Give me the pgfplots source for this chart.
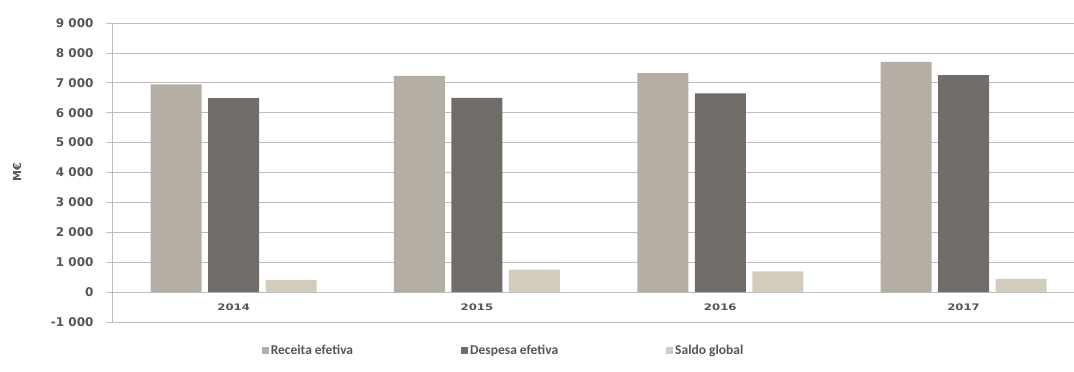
\documentclass[border=0pt]{standalone}
\usepackage{fontspec}
\setmainfont{DejaVu Sans}
\newfontfamily\carl{Carlito}
\usepackage{pgfplots}
\pgfplotsset{compat=1.18}
\definecolor{rec}{HTML}{B4AEA5}
\definecolor{desp}{HTML}{706D68}
\definecolor{sald}{HTML}{D2CCBC}
\definecolor{txt}{HTML}{555555}
\definecolor{gridc}{HTML}{BDBDBD}
\begin{document}
\begin{tikzpicture}
\path[use as bounding box] (-112pt,-50pt) rectangle (962pt,322pt);
\begin{axis}[
  at={(0pt,0pt)}, anchor=south west,
  scale only axis, width=962pt, height=299pt,
  ymin=-1000, ymax=9000, ytick={-1000,0,1000,2000,3000,4000,5000,6000,7000,8000,9000},
  xmin=-0.5, xmax=3.454, xtick={0,1,2,3}, xticklabels={2014,2015,2016,2017},
  ybar=6.5pt, bar width=51pt,
  axis x line=middle, axis y line=left,
  axis line style={draw=gridc, line width=0.8pt, -},
  ymajorgrids, grid style={draw=gridc, line width=0.8pt},
  tick align=outside, major tick length=6pt,
  major x tick style={draw=none},
  major y tick style={draw=gridc, line width=0.8pt},
  hide obscured x ticks=false, hide obscured y ticks=false,
  /pgf/number format/.cd, 1000 sep={\ }, assume math mode=true,
  /pgfplots/.cd,
  yticklabel style={font=\bfseries\fontsize{12}{12}\selectfont, text=txt, xscale=1.0, anchor=east, xshift=-9pt},
  xticklabel style={font=\bfseries\fontsize{9}{9}\selectfont, text=txt, xscale=1.3, yshift=-2pt},
  ylabel={M€},
  ylabel style={at={(axis description cs:0,0.5)}, anchor=center, yshift=95pt, font=\bfseries\fontsize{11}{11}\selectfont, text=txt},
  legend style={at={(0.407,-0.094)}, anchor=center, draw=none, fill=none, legend columns=3,
    font=\carl\bfseries\fontsize{13.5}{13.5}\selectfont, text=txt,
    /tikz/every even column/.append style={column sep=106pt}},
  legend image code/.code={\fill[#1] (0pt,-3.5pt) rectangle (7pt,3.5pt);},
]
\addplot[draw=none, fill=rec] coordinates {(0,6950) (1,7230) (2,7320) (3,7700)};
\addplot[draw=none, fill=desp] coordinates {(0,6490) (1,6500) (2,6650) (3,7260)};
\addplot[draw=none, fill=sald] coordinates {(0,410) (1,750) (2,690) (3,440)};
\legend{Receita efetiva, Despesa efetiva, Saldo global}
\end{axis}
\end{tikzpicture}
\end{document}
